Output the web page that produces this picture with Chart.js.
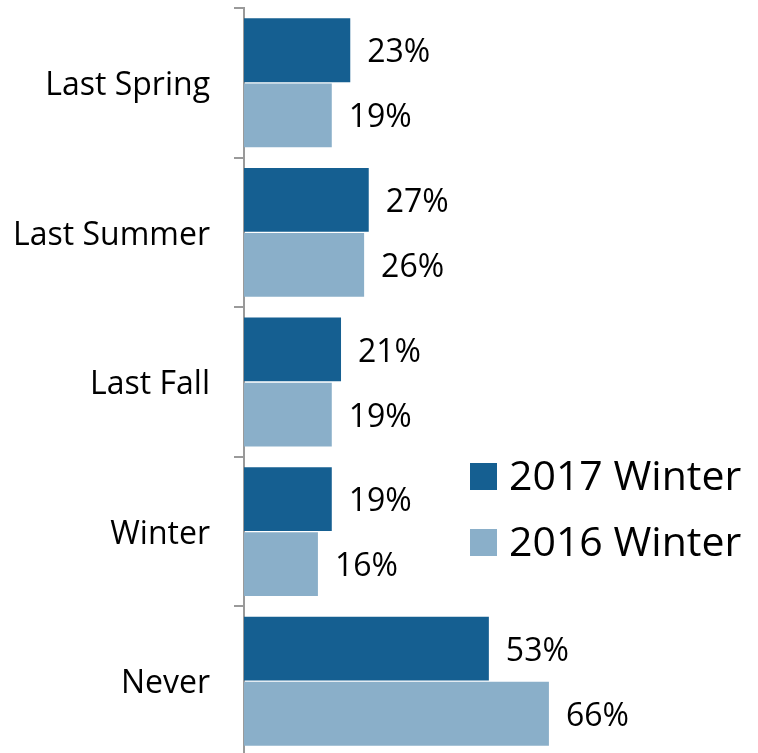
<!DOCTYPE html>
<html>
<head>
<meta charset="utf-8">
<script src="https://cdn.jsdelivr.net/npm/chart.js@4/dist/chart.umd.min.js"></script>
<style>
  html, body { margin: 0; padding: 0; background: #fff; overflow: hidden; }
  #wrap { position: relative; width: 758px; height: 756px; }
</style>
</head>
<body>
<div id="wrap"><canvas id="chart"></canvas></div>
<script>
// 数据
const categories = ['Last Spring', 'Last Summer', 'Last Fall', 'Winter', 'Never'];
const seriesNames = ['2017 Winter', '2016 Winter'];
const values2017 = [23, 27, 21, 19, 53];
const values2016 = [19, 26, 19, 16, 66];

const colors = ['#155f91', '#8aafc9'];
const fontFamily = '"Open Sans", sans-serif';

// 柱子右侧的百分比标签
const barLabels = {
  id: 'barLabels',
  afterDatasetsDraw(chart) {
    const ctx = chart.ctx;
    ctx.save();
    ctx.font = '32px ' + fontFamily;
    ctx.fillStyle = '#000';
    ctx.textAlign = 'left';
    ctx.textBaseline = 'middle';
    chart.data.datasets.forEach((ds, i) => {
      chart.getDatasetMeta(i).data.forEach((bar, j) => {
        ctx.fillText(ds.data[j] + '%', bar.x + 17, bar.y + 3);
      });
    });
    ctx.restore();
  }
};

// 图例（右侧中部）
const sideLegend = {
  id: 'sideLegend',
  afterDraw(chart) {
    const ctx = chart.ctx;
    ctx.save();
    ctx.font = '41px ' + fontFamily;
    ctx.textBaseline = 'middle';
    const rows = [476, 542];
    chart.data.datasets.forEach((ds, i) => {
      ctx.fillStyle = ds.backgroundColor;
      ctx.fillRect(470, rows[i] - 13, 27, 27);
      ctx.fillStyle = '#000';
      ctx.fillText(ds.label, 509, rows[i] + 2);
    });
    ctx.restore();
  }
};

new Chart(document.getElementById('chart'), {
  type: 'bar',
  data: {
    labels: categories,
    datasets: [
      { label: seriesNames[0], data: values2017, backgroundColor: colors[0] },
      { label: seriesNames[1], data: values2016, backgroundColor: colors[1] }
    ]
  },
  options: {
    indexAxis: 'y',
    responsive: true,
    maintainAspectRatio: false,
    animation: false,
    layout: { padding: { top: 8, right: 52, bottom: 0, left: 0 } },
    datasets: {
      bar: { categoryPercentage: 0.87, barPercentage: 0.98 }
    },
    plugins: {
      legend: { display: false },
      tooltip: { enabled: false }
    },
    scales: {
      x: { display: false, min: 0, max: 100 },
      y: {
        afterFit(scale) {
          scale.width = 244;
          scale.paddingTop = 0;
          scale.paddingBottom = 0;
        },
        border: { display: true, color: '#9a9a9a', width: 2 },
        grid: {
          offset: true,
          drawOnChartArea: false,
          tickLength: 10,
          color: '#9a9a9a',
          lineWidth: 2
        },
        ticks: {
          color: '#000',
          padding: 24,
          labelOffset: 3,
          font: { size: 32, family: fontFamily }
        }
      }
    }
  },
  plugins: [barLabels, sideLegend]
});
</script>
</body>
</html>
